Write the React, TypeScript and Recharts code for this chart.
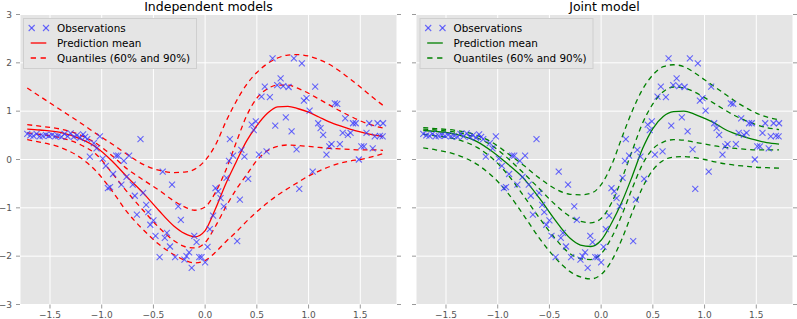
import React from 'react';
import { ComposedChart, Scatter, Line, XAxis, YAxis, CartesianGrid } from 'recharts';

const obsX = [
  -1.72, -1.69, -1.66, -1.63, -1.6, -1.57, -1.54, -1.51, -1.48, -1.45, -1.42, -1.39, -1.36, -1.33, -1.3, -1.27, -1.24, -1.21, -1.18, -1.16, -1.14,
  -1.115, -1.076, -1.05, -1.018, -0.99, -0.96, -0.94, -0.92, -0.89, -0.86, -0.84, -0.81, -0.786, -0.76, -0.735, -0.7, -0.68, -0.66, -0.625,
  -0.6, -0.57, -0.55, -0.53, -0.5, -0.48, -0.44, -0.41, -0.39, -0.37, -0.34, -0.32, -0.29, -0.26, -0.235, -0.2, -0.18, -0.155, -0.13,
  -0.105, -0.083, -0.057, -0.035, 0.0, 0.023, 0.045, 0.077, 0.1, 0.126, 0.149, 0.18, 0.207, 0.23, 0.239, 0.27, 0.31, 0.336, 0.35, 0.38,
  0.416, 0.45, 0.47, 0.49, 0.52, 0.545, 0.577, 0.594, 0.626, 0.652, 0.678, 0.697, 0.73, 0.755, 0.78, 0.807, 0.836, 0.858, 0.884, 0.91,
  0.935, 0.955, 0.98, 1.01, 1.04, 1.064, 1.093, 1.116, 1.141, 1.173, 1.2, 1.222, 1.254, 1.277, 1.303, 1.33, 1.354, 1.38, 1.406, 1.43,
  1.456, 1.486, 1.51, 1.535, 1.56, 1.586, 1.62, 1.64, 1.667, 1.69, 1.716, 1.72,
];
const obsY = [
  0.53, 0.5, 0.49, 0.53, 0.48, 0.49, 0.51, 0.49, 0.51, 0.48, 0.49, 0.47, 0.53, 0.48, 0.54, 0.47, 0.5, 0.45, 0.52, 0.47, 0.42,
  0.06, 0.34, 0.23, 0.48, 0.02, -0.13, -0.59, -0.57, -0.3, 0.08, 0.08, -0.52, -0.03, -0.36, 0.08, -0.52, -0.75, -1.14, 0.42,
  -0.69, -0.94, -1.09, -1.35, -1.26, -1.58, -2.02, -0.25, -1.62, -1.52, -1.8, -0.52, -2.02, -0.97, -1.25, -2.07, -2.0, -1.92, -2.24,
  -1.58, -1.71, -2.02, -2.02, -2.13, -1.81, -1.44, -1.16, -0.59, -0.66, -0.8, -0.97, -0.38, -0.03, 0.42, 0.08, -1.69, -0.83, 0.2, 0.06,
  -0.4, 0.72, 0.61, 0.79, 0.1, 1.3, 1.51, 0.17, 1.29, 2.09, 0.7, 1.54, 1.68, 1.52, 0.87, 1.5, 0.58, 2.09, 0.21, -0.61,
  1.99, 1.22, 1.27, 1.01, -0.25, 1.51, 0.75, 0.65, 0.51, 0.1, 0.27, 0.32, 1.16, 1.15, 0.32, 0.55, 0.85, 0.51, 0.55, 0.75,
  0.75, 0.0, 0.27, 0.27, 0.55, 0.75, 0.23, 0.48, 0.75, 0.49, 0.48, 0.75,
];

const gridX = [-1.72, -1.6, -1.4, -1.2, -1.05, -0.9, -0.75, -0.6, -0.45, -0.3, -0.2, -0.1, 0.0, 0.1, 0.2, 0.3, 0.4, 0.5, 0.6, 0.7, 0.8, 0.9, 1.0, 1.1, 1.2, 1.3, 1.4, 1.5, 1.6, 1.72];

const indMean = [0.63, 0.61, 0.56, 0.42, 0.25, -0.03, -0.37, -0.69, -1.05, -1.38, -1.53, -1.6, -1.47, -1.02, -0.5, -0.05, 0.38, 0.7, 0.95, 1.09, 1.1, 1.05, 0.98, 0.88, 0.78, 0.7, 0.63, 0.57, 0.52, 0.48];
const indQ95 = [1.48, 1.31, 1.03, 0.75, 0.53, 0.32, 0.1, -0.1, -0.22, -0.27, -0.26, -0.2, -0.02, 0.3, 0.78, 1.2, 1.55, 1.8, 1.98, 2.1, 2.16, 2.17, 2.14, 2.07, 1.97, 1.83, 1.67, 1.5, 1.32, 1.12];
const indQ80 = [0.72, 0.69, 0.63, 0.5, 0.33, 0.08, -0.2, -0.42, -0.63, -0.86, -0.98, -1.05, -0.98, -0.68, -0.22, 0.35, 0.9, 1.27, 1.46, 1.54, 1.54, 1.47, 1.37, 1.25, 1.13, 1.01, 0.9, 0.8, 0.72, 0.65];
const indQ20 = [0.55, 0.52, 0.45, 0.3, 0.1, -0.28, -0.68, -1.05, -1.4, -1.68, -1.8, -1.83, -1.72, -1.38, -0.98, -0.62, -0.32, -0.02, 0.18, 0.27, 0.3, 0.29, 0.27, 0.25, 0.23, 0.22, 0.21, 0.2, 0.2, 0.19];
const indQ05 = [0.41, 0.36, 0.25, 0.03, -0.25, -0.65, -1.1, -1.45, -1.75, -1.97, -2.08, -2.14, -2.09, -1.92, -1.7, -1.5, -1.28, -1.08, -0.9, -0.74, -0.6, -0.47, -0.34, -0.24, -0.15, -0.08, -0.03, 0.0, 0.05, 0.12];

const jointMean = [0.6, 0.58, 0.52, 0.37, 0.16, -0.1, -0.39, -0.79, -1.24, -1.63, -1.77, -1.8, -1.67, -1.32, -0.88, -0.35, 0.22, 0.64, 0.89, 0.99, 1.0, 0.94, 0.85, 0.75, 0.62, 0.53, 0.46, 0.4, 0.35, 0.32];
const jointQ95 = [0.66, 0.64, 0.6, 0.5, 0.35, 0.12, -0.12, -0.38, -0.6, -0.72, -0.73, -0.7, -0.52, -0.12, 0.45, 1.0, 1.45, 1.75, 1.92, 1.96, 1.92, 1.8, 1.65, 1.5, 1.35, 1.2, 1.07, 0.96, 0.88, 0.82];
const jointQ80 = [0.63, 0.61, 0.56, 0.45, 0.28, 0.02, -0.28, -0.6, -0.92, -1.18, -1.28, -1.31, -1.22, -0.9, -0.4, 0.18, 0.75, 1.15, 1.4, 1.5, 1.48, 1.4, 1.28, 1.15, 1.02, 0.9, 0.8, 0.72, 0.66, 0.62];
const jointQ20 = [0.52, 0.49, 0.42, 0.25, 0.02, -0.32, -0.75, -1.2, -1.62, -1.95, -2.05, -2.07, -1.95, -1.62, -1.15, -0.6, -0.1, 0.22, 0.36, 0.41, 0.4, 0.36, 0.32, 0.28, 0.25, 0.23, 0.21, 0.2, 0.2, 0.2];
const jointQ05 = [0.24, 0.2, 0.1, -0.1, -0.35, -0.7, -1.15, -1.62, -2.02, -2.32, -2.43, -2.47, -2.38, -2.1, -1.65, -1.1, -0.58, -0.22, -0.02, 0.05, 0.06, 0.04, 0.0, -0.05, -0.09, -0.12, -0.14, -0.16, -0.17, -0.18];

const xTicks = [-1.5, -1.0, -0.5, 0.0, 0.5, 1.0, 1.5];
const yTicks = [-3, -2, -1, 0, 1, 2, 3];
const titles = ['Independent models', 'Joint model'];
const legendLabels = ['Observations', 'Prediction mean', 'Quantiles (60% and 90%)'];

const FONT = "'DejaVu Sans', sans-serif";
const fmtX = (v: number) => (v < 0 ? '\u2212' : '') + Math.abs(v).toFixed(1);
const fmtY = (v: number) => (v < 0 ? '\u2212' : '') + Math.abs(v).toFixed(0);
const blank = () => '';

const obsData = obsX.map((x, i) => ({ x, y: obsY[i] }));
const toSeries = (ys: number[]) => gridX.map((x, i) => ({ x, y: ys[i] }));

const MARK = '#3b3bff';
const Cross = (props: any) => {
  const { cx, cy } = props;
  if (cx == null || cy == null) return null;
  const r = 3;
  return (
    <g stroke={MARK} strokeOpacity={0.75} strokeWidth={1.1}>
      <line x1={cx - r} y1={cy - r} x2={cx + r} y2={cy + r} />
      <line x1={cx - r} y1={cy + r} x2={cx + r} y2={cy - r} />
    </g>
  );
};

type PanelProps = {
  left: number;
  width: number;
  yWidth: number;
  marginRight: number;
  color: string;
  mean: number[];
  quants: number[][];
  showYLabels: boolean;
};

function Panel({ left, width, yWidth, marginRight, color, mean, quants, showYLabels }: PanelProps) {
  const tickStyle = { fill: '#555555', fontSize: 9, fontFamily: FONT };
  return (
    <div style={{ position: 'absolute', left, top: 0 }}>
      <ComposedChart width={width} height={319} margin={{ top: 14.5, right: marginRight, bottom: 0, left: 0 }}>
        <CartesianGrid fill="#e5e5e5" fillOpacity={1} stroke="#ffffff" strokeWidth={1} />
        <XAxis
          type="number"
          dataKey="x"
          domain={[-1.79, 1.855]}
          ticks={xTicks}
          interval={0}
          allowDataOverflow
          tickFormatter={fmtX}
          height={14.5}
          tickSize={4}
          tickMargin={3}
          axisLine={false}
          tickLine={{ stroke: '#999999' }}
          tick={tickStyle}
        />
        <YAxis
          type="number"
          dataKey="y"
          domain={[-3, 3]}
          ticks={yTicks}
          interval={0}
          allowDataOverflow
          tickFormatter={showYLabels ? fmtY : blank}
          width={yWidth}
          tickSize={4}
          tickMargin={4}
          axisLine={false}
          tickLine={{ stroke: '#999999' }}
          tick={tickStyle}
        />
        <YAxis
          yAxisId="r"
          orientation="right"
          type="number"
          domain={[-3, 3]}
          ticks={yTicks}
          interval={0}
          allowDataOverflow
          tickFormatter={blank}
          width={4}
          tickSize={4}
          axisLine={false}
          tickLine={{ stroke: '#999999' }}
          tick={tickStyle}
        />
        {quants.map((q, i) => (
          <Line
            key={'q' + i}
            data={toSeries(q)}
            dataKey="y"
            type="monotone"
            stroke={color}
            strokeWidth={1.3}
            strokeDasharray="5 4"
            dot={false}
            activeDot={false}
            isAnimationActive={false}
          />
        ))}
        <Line
          data={toSeries(mean)}
          dataKey="y"
          type="monotone"
          stroke={color}
          strokeWidth={1.3}
          dot={false}
          activeDot={false}
          isAnimationActive={false}
        />
        <Scatter data={obsData} dataKey="y" shape={<Cross />} isAnimationActive={false} />
      </ComposedChart>
    </div>
  );
}

function Legend({ dx, color }: { dx: number; color: string }) {
  const tx = 57 + dx;
  return (
    <g fontFamily={FONT} fontSize={10.4} fill="#000000">
      <rect x={23.5 + dx} y={18.5} width={173} height={50} fill="#e5e5e5" stroke="#cfcfcf" strokeWidth={1} />
      <g stroke={MARK} strokeOpacity={0.75} strokeWidth={1.1}>
        {[31.7, 46].map((cx) => (
          <g key={cx}>
            <line x1={cx - 3 + dx} y1={25} x2={cx + 3 + dx} y2={31} />
            <line x1={cx - 3 + dx} y1={31} x2={cx + 3 + dx} y2={25} />
          </g>
        ))}
      </g>
      <line x1={30.7 + dx} y1={43} x2={46.3 + dx} y2={43} stroke={color} strokeWidth={1.3} />
      <line x1={30.7 + dx} y1={58} x2={46.3 + dx} y2={58} stroke={color} strokeWidth={1.3} strokeDasharray="5.3 4.6" />
      <text x={tx} y={31.8}>{legendLabels[0]}</text>
      <text x={tx} y={46.8}>{legendLabels[1]}</text>
      <text x={tx} y={61.8}>{legendLabels[2]}</text>
    </g>
  );
}

export default function App() {
  return (
    <div style={{ position: 'absolute', left: 0, top: 0, width: 797, height: 319, background: '#ffffff', overflow: 'hidden' }}>
      <Panel left={0} width={410} yWidth={20} marginRight={9} color="#ff0000" mean={indMean} quants={[indQ95, indQ80, indQ20, indQ05]} showYLabels />
      <Panel left={404} width={393} yWidth={12} marginRight={0} color="#008000" mean={jointMean} quants={[jointQ95, jointQ80, jointQ20, jointQ05]} showYLabels={false} />
      <svg width={797} height={319} style={{ position: 'absolute', left: 0, top: 0, pointerEvents: 'none' }}>
        <text x={208.5} y={11.2} textAnchor="middle" fontFamily={FONT} fontSize={12.5} fill="#000000">{titles[0]}</text>
        <text x={604.5} y={11.2} textAnchor="middle" fontFamily={FONT} fontSize={12.5} fill="#000000">{titles[1]}</text>
        <Legend dx={0} color="#ff0000" />
        <Legend dx={396.5} color="#008000" />
      </svg>
    </div>
  );
}
